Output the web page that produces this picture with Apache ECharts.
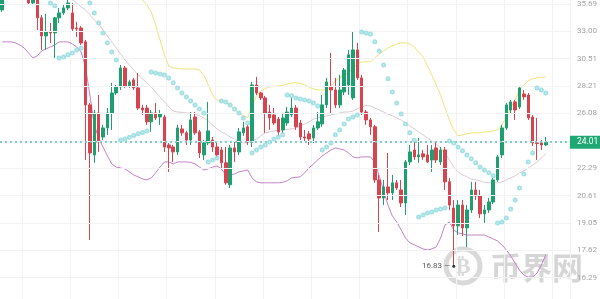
<!DOCTYPE html>
<html><head><meta charset="utf-8">
<script src="https://cdn.jsdelivr.net/npm/echarts@6/dist/echarts.min.js"></script>
<style>html,body{margin:0;padding:0;background:#fff}#c{width:600px;height:299px}</style>
</head><body><div id="c"></div>
<script>
const tickLabels = ['16.29','17.62','19.05','20.61','22.29','24.11','26.08','28.21','30.51','33.00','35.69'];
const lastPrice = 24.01;
const lowMark = 16.83;

const opens = [35.09,37.0,36.5,37.3,37.8,37.2,36.42,35.80,36.32,34.30,32.57,32.95,32.85,34.30,34.79,35.29,34.79,33.32,33.32,32.02,
26.73,23.16,26.12,24.38,25.02,26.12,27.66,28.14,29.71,28.22,28.71,28.06,26.49,26.49,25.46,26.12,25.82,25.82,23.83,23.69,
23.36,24.95,24.67,24.17,25.82,24.74,23.16,23.97,24.17,23.69,23.49,22.64,21.26,23.63,23.36,24.67,25.10,24.03,28.30,27.66,
27.27,26.19,25.97,25.67,24.88,25.38,25.97,26.49,25.38,24.38,24.60,24.31,25.02,25.31,26.73,28.14,27.90,26.73,27.74,28.30,
27.27,31.29,28.88,26.19,25.60,25.10,21.56,20.47,21.13,20.77,21.38,20.95,20.18,22.70,23.49,23.03,23.23,23.16,22.83,23.63,
22.70,23.49,21.44,19.89,18.90,20.06,18.79,19.78,20.95,20.59,19.56,19.78,20.24,21.56,23.16,25.02,26.34,26.96,26.57,27.58,
27.50,25.82,23.97,23.97,23.83];
const closes = [36.63,36.5,37.3,37.8,37.2,36.6,35.80,36.32,34.30,32.57,32.95,32.85,34.30,34.79,35.29,35.80,33.23,33.23,31.92,26.73,
23.29,26.12,24.03,25.02,26.12,27.66,28.14,29.71,28.22,28.55,28.06,26.49,26.34,25.46,26.12,25.75,26.04,23.69,23.63,23.36,
25.02,24.67,24.17,25.60,24.67,23.29,23.97,24.81,23.69,23.16,22.64,21.38,23.63,23.36,24.74,25.02,24.03,28.30,27.66,27.27,
26.12,25.75,25.38,24.74,25.75,26.19,26.49,25.10,24.38,24.31,24.24,25.02,25.46,26.73,28.55,27.90,26.73,27.90,29.54,30.85,
31.29,28.88,26.19,25.60,25.10,21.56,20.47,21.13,20.77,21.38,21.07,20.18,22.70,23.36,23.03,23.16,23.03,22.70,23.49,22.83,
23.49,21.44,20.06,18.90,20.06,18.79,19.78,20.95,20.59,19.56,19.78,20.24,21.56,23.03,25.02,26.73,26.96,26.34,28.06,27.35,
25.75,23.97,23.93,23.83,24.01];
const lows = [34.89,36.2,36.3,37.0,36.9,36.3,35.60,35.60,33.13,31.29,31.29,31.92,30.58,33.81,34.60,35.09,33.04,32.48,31.74,22.83,
18.15,22.64,23.36,24.17,24.53,24.88,27.50,27.90,28.06,28.06,27.90,26.34,25.97,25.24,24.74,25.60,25.24,23.36,22.06,22.70,
23.16,24.46,23.83,23.83,24.53,22.96,22.83,23.83,23.36,22.96,22.31,21.26,21.07,22.70,23.16,24.46,23.83,23.69,27.50,27.11,
24.67,24.88,25.24,24.38,24.67,25.17,25.82,24.88,24.17,24.03,23.83,23.97,24.88,25.10,26.49,26.12,26.49,26.49,27.50,27.50,
27.11,28.71,25.97,25.24,24.53,21.38,18.57,20.06,20.35,20.35,20.95,19.95,19.50,22.50,22.83,22.64,22.83,22.64,22.06,22.64,
22.50,20.95,19.78,16.83,18.41,18.36,17.79,19.61,20.35,19.33,19.06,19.61,20.12,21.44,22.96,24.88,26.12,25.60,26.42,27.11,
25.60,23.76,22.83,23.49,23.76];
const highs = [36.94,37.5,37.8,38.2,38.3,37.6,36.73,36.63,36.52,34.60,34.70,33.81,34.40,35.29,35.60,36.32,35.80,33.91,33.52,32.20,
26.88,26.34,27.50,25.24,26.49,28.47,28.30,29.97,29.88,28.71,28.88,29.29,26.73,26.73,26.34,26.88,26.34,25.97,23.97,23.83,
25.24,25.24,24.81,26.19,26.19,24.88,24.17,26.96,24.38,23.97,23.69,23.69,23.83,24.03,25.02,25.46,25.24,28.55,28.96,27.74,
27.43,26.73,26.49,25.82,26.12,26.57,27.27,26.73,25.60,24.88,24.81,25.24,26.19,27.50,28.88,31.02,28.88,29.13,29.71,31.29,
32.94,31.93,29.13,26.34,25.75,25.24,21.87,21.56,23.29,21.87,21.56,21.56,22.83,23.83,24.03,24.31,23.49,23.83,23.83,24.03,
23.69,23.69,21.68,20.35,20.35,20.35,20.06,21.44,21.44,20.95,20.06,20.47,21.68,23.16,25.24,26.88,27.11,27.11,28.22,27.90,
27.66,25.97,25.75,24.17,24.38];

const bbUpper = [40.8,40.9,41.0,41.0,41.1,41.1,41.0,41.0,40.9,40.9,40.8,40.7,40.6,40.5,40.4,40.3,40.2,40.1,40.0,40.0,
40.2,40.3,40.3,40.2,40.0,39.8,39.6,39.3,38.7,37.9,37.15,36.63,36.11,35.60,34.89,33.62,32.20,30.85,29.88,29.71,
29.67,29.63,29.63,29.63,29.63,29.54,29.13,28.30,27.50,27.11,27.03,26.88,26.73,26.34,26.12,25.90,25.78,26.65,27.43,27.82,
28.02,28.14,28.18,28.22,28.26,28.38,28.47,28.47,28.43,28.30,28.14,27.98,27.90,27.90,27.90,28.22,28.63,28.88,29.13,29.29,
29.71,30.05,30.23,30.23,30.23,30.58,30.93,31.20,31.47,31.65,31.83,31.93,31.93,31.83,31.56,31.11,30.67,29.88,29.13,28.30,
27.50,26.49,25.60,24.88,24.46,24.53,24.60,24.67,24.67,24.67,24.74,24.74,24.81,24.88,25.24,25.82,26.49,27.11,27.90,28.30,
28.63,28.80,28.88,28.92,28.96];
const bbMiddle = [38.4,38.4,38.4,38.3,38.3,38.2,38.2,38.1,38.0,37.9,37.85,37.8,37.70,37.15,36.73,36.42,36.11,35.80,35.39,35.09,
34.60,34.10,33.71,33.13,32.57,32.02,31.47,30.93,30.40,29.97,29.54,29.13,28.80,28.47,28.14,27.74,27.35,26.96,26.57,26.27,
26.19,26.16,26.12,26.12,26.04,25.90,25.75,25.53,25.24,24.95,24.74,24.60,24.38,24.24,24.03,23.97,23.97,24.10,24.24,24.46,
24.67,24.74,24.81,24.85,24.88,24.92,24.95,25.02,25.17,25.31,25.46,25.67,25.75,25.82,25.90,25.97,26.04,26.12,26.19,26.19,
26.27,26.42,26.57,26.69,26.65,26.49,26.34,26.19,26.04,25.90,25.75,25.60,25.38,25.17,24.95,24.74,24.53,24.31,24.10,23.90,
23.63,23.29,22.83,22.37,22.06,21.87,21.75,21.62,21.56,21.50,21.41,21.38,21.38,21.38,21.44,21.56,21.68,21.81,22.00,22.12,
22.31,22.50,22.70,22.96,23.23];
const bbLower = [32.02,32.02,32.02,31.93,31.74,31.47,31.02,30.58,30.76,31.20,31.38,31.56,31.74,32.02,32.02,32.02,31.83,31.56,31.11,29.80,
27.50,25.24,24.31,23.69,23.09,22.57,22.37,22.31,22.25,22.06,21.87,21.75,21.62,21.56,21.68,22.00,22.37,22.70,22.70,22.57,
22.70,22.70,22.70,22.67,22.57,22.37,22.18,22.25,22.37,22.44,22.25,21.87,21.87,21.93,22.06,22.12,22.18,21.68,21.44,21.38,
21.38,21.38,21.38,21.38,21.41,21.50,21.68,21.72,21.75,22.00,22.31,22.57,22.83,23.09,23.29,23.49,23.63,23.56,23.49,23.29,
23.03,22.96,23.03,23.03,23.03,22.70,21.81,20.89,20.06,19.44,19.11,18.68,18.25,18.00,17.90,17.79,17.69,17.64,17.69,17.79,
18.25,18.95,19.11,18.68,18.52,18.47,18.41,18.41,18.41,18.41,18.41,18.31,18.20,18.10,17.90,17.64,17.34,16.99,16.65,16.41,
16.32,16.32,16.51,16.90,17.39];
const sar = [39.5,39.3,39.1,38.9,38.7,38.4,38.1,37.8,37.4,37.0,36.21,35.80,35.50,30.58,30.67,30.85,31.02,31.29,31.47,36.21,
35.80,34.79,33.81,32.85,31.93,31.11,30.40,24.17,24.24,24.36,24.48,24.60,24.69,24.81,29.37,29.29,29.21,29.13,28.88,28.47,
28.06,27.66,27.35,27.03,26.73,26.42,26.12,22.70,22.83,22.96,27.03,26.96,26.73,26.42,26.12,25.75,25.38,23.29,23.49,23.69,
23.83,24.03,24.24,24.38,24.53,27.50,27.43,27.27,27.19,27.11,27.03,26.88,26.65,23.49,23.69,23.97,24.53,24.88,25.31,25.67,
25.82,25.97,32.94,32.85,32.76,32.02,31.20,29.97,28.80,27.74,26.88,26.04,25.31,24.67,24.17,19.39,19.50,19.61,19.67,19.78,
19.84,19.89,24.10,23.97,23.69,23.43,23.16,22.90,22.64,22.37,22.18,22.00,21.81,19.06,19.11,19.33,19.84,20.35,21.07,21.93,
22.70,23.29,28.06,27.90,27.66];

// categories (candle slots) plus a few empty slots on the right before the price axis
const categories = opens.map((_, i) => 'K' + (i + 1)).concat(['', '', '', '', '']);

const BASE = parseFloat(tickLabels[0]);
const RATIO = Math.pow(parseFloat(tickLabels[10]) / BASE, 0.1);
const toU = p => Math.log(p / BASE) / Math.log(RATIO);
const tickU = tickLabels.map((_, i) => i);

const candleData = opens.map((o, i) => [toU(o), toU(closes[i]), toU(lows[i]), toU(highs[i])]);
const lowIdx = lows.indexOf(lowMark);

const chart = echarts.init(document.getElementById('c'), null, {renderer: 'canvas'});
chart.setOption({
  animation: false,
  backgroundColor: '#ffffff',
  grid: {left: -3.3, right: 29.7, top: 0, bottom: 0, containLabel: false},
  xAxis: {
    type: 'category', data: categories, boundaryGap: true,
    axisLine: {show: false}, axisTick: {show: false}, axisLabel: {show: false},
    splitLine: {show: true, interval: (idx) => idx >= 5 && (idx - 5) % 11 === 0, lineStyle: {color: '#f2f2f4', width: 1}}
  },
  yAxis: {
    type: 'value', position: 'right', min: -0.778, max: 10.146,
    axisLine: {show: false},
    axisTick: {show: false, customValues: tickU},
    axisLabel: {margin: 7, color: '#a3a3a3', fontSize: 8, fontFamily: 'Roboto', customValues: tickU,
      formatter: v => tickLabels[Math.round(v)] || ''},
    splitLine: {show: false}
  },
  graphic: [
    {type: 'circle', z: 0, shape: {cx: 463, cy: 266, r: 17}, style: {fill: 'none', stroke: '#d9d9d9', lineWidth: 5}},
    {type: 'text', z: 0, x: 463, y: 267, style: {text: '₿', fill: '#d9d9d9', font: 'bold 22px "DejaVu Sans"', align: 'center', verticalAlign: 'middle'}},
    {type: 'text', z: 0, x: 490, y: 267, style: {text: '币界网', fill: '#d6d6d6', font: 'bold 31px "Noto Sans CJK SC"', verticalAlign: 'middle'}}
  ],
  series: [
    {type: 'line', name: 'grid', data: [], z: 1, silent: true,
      markLine: {silent: true, symbol: 'none', label: {show: false},
        lineStyle: {color: '#f3f3f3', width: 1, type: 'solid'},
        data: tickU.map(u => ({yAxis: u}))}},
    {type: 'line', name: 'UP', data: bbUpper.map(toU), symbol: 'none', lineStyle: {color: '#f1e37c', width: 1}, z: 3},
    {type: 'line', name: 'MB', data: bbMiddle.map(toU), symbol: 'none', lineStyle: {color: '#dccbd4', width: 1}, z: 3},
    {type: 'line', name: 'DN', data: bbLower.map(toU), symbol: 'none', lineStyle: {color: '#c283c6', width: 1}, z: 3},
    {type: 'candlestick', name: 'K', data: candleData, barWidth: 3, z: 4,
      itemStyle: {color: '#1f9f6f', color0: '#d6444f', borderColor: '#1f9f6f', borderColor0: '#d6444f', borderWidth: 1},
      markLine: {
        silent: true, symbol: 'none',
        lineStyle: {color: '#5fc0b6', width: 1.5, type: [2, 3]},
        label: {show: true, position: 'end', distance: 0, formatter: lastPrice.toFixed(2), color: '#fff',
          backgroundColor: '#1fa874', padding: [2, 8, 2, 7], fontSize: 8.5, fontFamily: 'Roboto'},
        data: [{yAxis: toU(lastPrice)}]
      },
      markPoint: {
        symbol: 'circle', symbolSize: 3, itemStyle: {color: '#333'},
        label: {show: true, position: 'left', distance: 2, formatter: lowMark.toFixed(2) + ' —', color: '#555', fontSize: 8, fontFamily: 'Roboto'},
        data: [{coord: [lowIdx, toU(lowMark)]}]
      }
    },
    {type: 'scatter', name: 'SAR', data: sar.map(toU), symbol: 'emptyCircle', symbolSize: 3, z: 5,
      itemStyle: {color: '#8fd9dd', borderColor: '#8fd9dd', borderWidth: 1}}
  ]
});
</script></body></html>
